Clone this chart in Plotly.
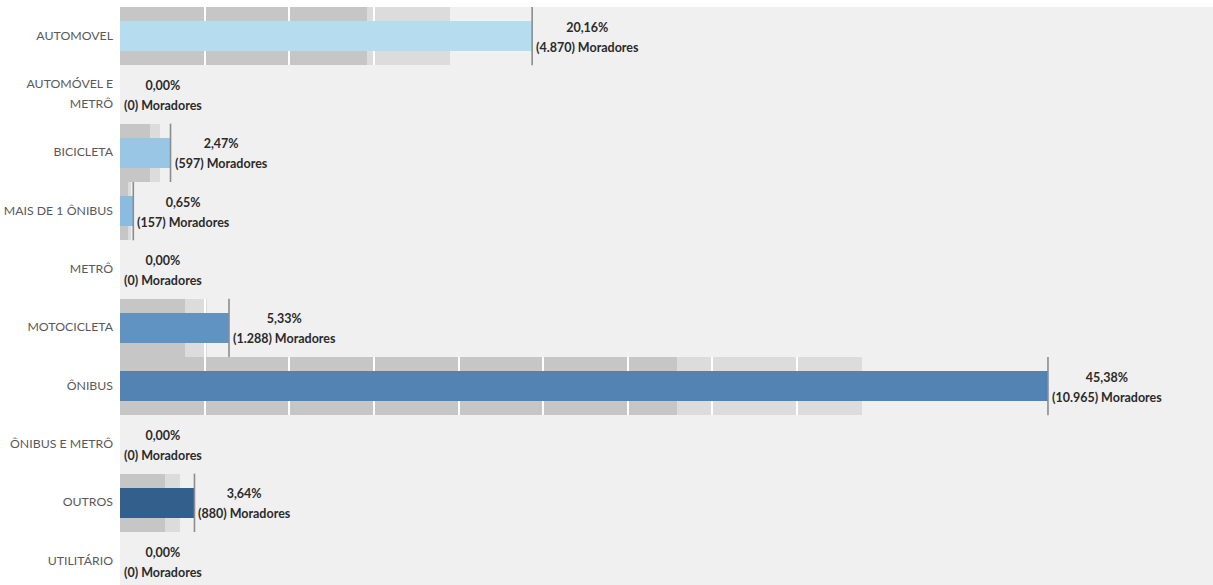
import plotly.graph_objects as go

# Meio de transporte utilizado pelos moradores
categorias = [
    "AUTOMOVEL",
    "AUTOMÓVEL E<br>METRÔ",
    "BICICLETA",
    "MAIS DE 1 ÔNIBUS",
    "METRÔ",
    "MOTOCICLETA",
    "ÔNIBUS",
    "ÔNIBUS E METRÔ",
    "OUTROS",
    "UTILITÁRIO",
]
percentuais = [20.16, 0.00, 2.47, 0.65, 0.00, 5.33, 45.38, 0.00, 3.64, 0.00]
moradores = [4870, 0, 597, 157, 0, 1288, 10965, 0, 880, 0]
cores = [
    "#B6DCF0", "#A8D2EC", "#9AC6E6", "#8BBBDF", "#76A9D3",
    "#6093C2", "#5383B3", "#4573A3", "#335F8C", "#2A507A",
]

# faixas de fundo do gráfico de bala (60% e 80% do valor)
FAIXA_ESCURA = 0.6
FAIXA_CLARA = 0.8
PASSO_GRADE = 1000

X_MAX = 12915
PX_POR_UNID = 1093 / X_MAX
meio_px = 1.0 / PX_POR_UNID  # meia largura de 2 px em unidades de dados

n = len(categorias)
ys = list(range(n))

fig = go.Figure()

# faixa escura
fig.add_trace(go.Bar(
    y=ys, x=[m * FAIXA_ESCURA for m in moradores], base=0, orientation="h",
    width=1.0, marker=dict(color="#C6C6C6", line=dict(width=0)), hoverinfo="skip",
))
# faixa clara
fig.add_trace(go.Bar(
    y=ys, x=[m * (FAIXA_CLARA - FAIXA_ESCURA) for m in moradores],
    base=[m * FAIXA_ESCURA for m in moradores], orientation="h",
    width=1.0, marker=dict(color="#DCDCDC", line=dict(width=0)), hoverinfo="skip",
))

# linhas brancas da grade dentro das faixas
gy, gb = [], []
for i, m in enumerate(moradores):
    k = PASSO_GRADE
    while k < m * FAIXA_CLARA:
        gy.append(i)
        gb.append(k - meio_px)
        k += PASSO_GRADE
fig.add_trace(go.Bar(
    y=gy, x=[2 * meio_px] * len(gy), base=gb, orientation="h",
    width=1.0, marker=dict(color="#FFFFFF", line=dict(width=0)), hoverinfo="skip",
))

# barras principais
fig.add_trace(go.Bar(
    y=ys, x=moradores, base=0, orientation="h", width=0.514,
    marker=dict(color=cores, line=dict(width=0)),
))

# marcadores verticais no valor
mx, my = [], []
for i, m in enumerate(moradores):
    if m > 0:
        mx += [m, m, None]
        my += [i - 0.5, i + 0.5, None]
fig.add_trace(go.Scatter(
    x=mx, y=my, mode="lines", line=dict(color="#8C8C8C", width=1.6),
    hoverinfo="skip",
))

FONTE = "Lato, 'Open Sans', sans-serif"


def pequeno(txt, tam):
    # texto menor dentro de uma fonte maior, para abrir o espaçamento entre linhas
    return f"<span style='font-size:{tam}px'>{txt}</span>"


anotacoes = []
for i, (p, m) in enumerate(zip(percentuais, moradores)):
    txt_p = f"{p:.2f}".replace(".", ",") + "%"
    txt_m = "(" + f"{m:,}".replace(",", ".") + ") Moradores"
    anotacoes.append(dict(
        text=pequeno(txt_p, 12.5) + "<br>" + pequeno(txt_m, 12.5),
        x=m, y=i, xref="x", yref="y", xanchor="left", yanchor="middle",
        align="center", showarrow=False, xshift=2, yshift=-1,
        font=dict(family=FONTE, size=15.4, color="#2B2B2B", weight="bold"),
    ))

rotulos = ["<br>".join(pequeno(parte, 12.3) for parte in c.split("<br>")) for c in categorias]

fig.update_layout(
    width=1213, height=585,
    margin=dict(l=120, r=0, t=7, b=0),
    paper_bgcolor="#FFFFFF", plot_bgcolor="#F0F0F0",
    barmode="overlay", bargap=0, showlegend=False,
    annotations=anotacoes,
    xaxis=dict(range=[0, X_MAX], showgrid=False, zeroline=False,
               showticklabels=False, ticks="", fixedrange=True),
    yaxis=dict(range=[n - 1 + 0.409, -0.5], tickmode="array", tickvals=ys,
               ticktext=rotulos, showgrid=False, zeroline=False, ticks="",
               ticklabelstandoff=6, ticklabelshift=2,
               tickfont=dict(family=FONTE, size=15.4, color="#595959"),
               fixedrange=True),
)

fig.write_html("out.html")
